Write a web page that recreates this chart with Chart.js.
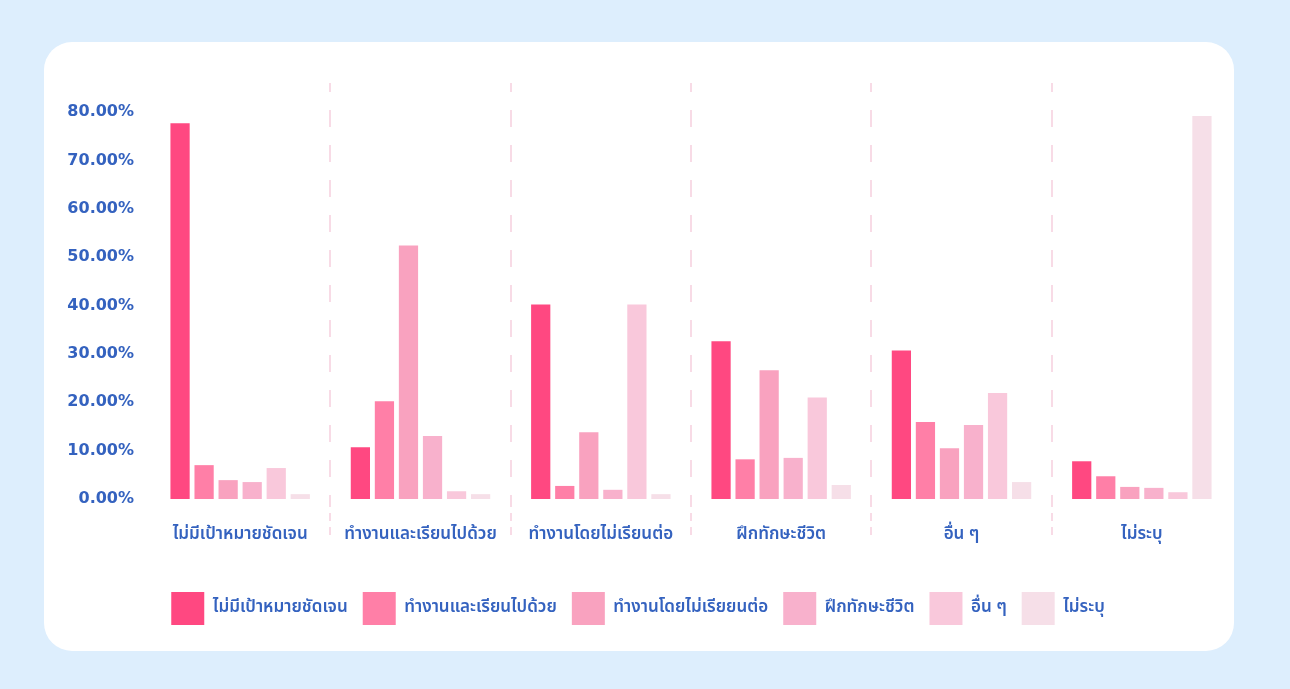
<!DOCTYPE html>
<html lang="th">
<head>
<meta charset="utf-8">
<title>เป้าหมายหลังจบการศึกษา</title>
<script src="https://cdn.jsdelivr.net/npm/chart.js@4.4.1/dist/chart.umd.min.js"></script>
<style>
    html, body {
        margin: 0;
        padding: 0;
        background: #ddeefd;
        width: 1290px;
        height: 689px;
        overflow: hidden;
    }
    .card {
        position: absolute;
        left: 44px;
        top: 42px;
        width: 1190px;
        height: 609px;
        background: #ffffff;
        border-radius: 28px;
    }
    .card canvas {
        position: absolute;
        left: 0;
        top: 0;
    }
</style>
</head>
<body>
<div class="card">
    <canvas id="goalChart" width="1190" height="609"></canvas>
</div>
<script>
// Categories (x axis) and series (legend)
const categories = ['ไม่มีเป้าหมายชัดเจน', 'ทำงานและเรียนไปด้วย', 'ทำงานโดยไม่เรียนต่อ', 'ฝึกทักษะชีวิต', 'อื่น ๆ', 'ไม่ระบุ'];
const seriesNames = ['ไม่มีเป้าหมายชัดเจน', 'ทำงานและเรียนไปด้วย', 'ทำงานโดยไม่เรียยนต่อ', 'ฝึกทักษะชีวิต', 'อื่น ๆ', 'ไม่ระบุ'];

// Percent values, one array per series
const noGoal      = [77.7, 10.7, 40.2, 32.6, 30.7, 7.8];
const workStudy   = [7.0, 20.2, 2.7, 8.2, 15.9, 4.7];
const workOnly    = [3.9, 52.4, 13.8, 26.6, 10.5, 2.5];
const lifeSkills  = [3.5, 13.0, 1.9, 8.5, 15.3, 2.3];
const otherGoal   = [6.4, 1.6, 40.2, 21.0, 21.9, 1.4];
const notSpecified = [1.0, 1.0, 1.0, 2.9, 3.5, 79.2];

const yTicks = [0, 10, 20, 30, 40, 50, 60, 70, 80];

const barColors = ['#ff4881', '#ff7fa7', '#f9a2bf', '#f8b1cc', '#f9c8db', '#f6dfe8'];
const textColor = '#3462bf';
const thaiFont = '"Noto Sans Thai", "Noto Sans", "DejaVu Sans", sans-serif';
const numFont = '"DejaVu Sans", "Noto Sans", sans-serif';

document.addEventListener('DOMContentLoaded', function() {
    const allSeries = [noGoal, workStudy, workOnly, lifeSkills, otherGoal, notSpecified];

    const datasets = allSeries.map((values, i) => ({
        label: seriesNames[i],
        data: values,
        backgroundColor: barColors[i],
        borderWidth: 0,
        barPercentage: 0.8,
        categoryPercentage: 0.8
    }));

    // hide the two outer separators
    const sepColor = ctx => (ctx.type !== 'tick' || ctx.index === 0) ? 'rgba(0,0,0,0)' : '#f8dbe6';

    new Chart(document.getElementById('goalChart'), {
        type: 'bar',
        data: {
            labels: categories,
            datasets: datasets
        },
        options: {
            responsive: false,
            animation: false,
            layout: {
                padding: { top: 41, right: 2, bottom: 16, left: 0 }
            },
            plugins: {
                legend: {
                    position: 'bottom',
                    labels: {
                        boxWidth: 33,
                        boxHeight: 33,
                        padding: 15,
                        color: textColor,
                        font: { family: thaiFont, size: 17, weight: '600' }
                    }
                },
                tooltip: { enabled: false }
            },
            scales: {
                x: {
                    border: { display: false, dash: [17, 18], dashOffset: 8 },
                    grid: {
                        offset: true,
                        color: sepColor,
                        lineWidth: 2,
                        tickLength: 42,
                        tickColor: sepColor,
                        tickBorderDash: [8, 6],
                        tickBorderDashOffset: 0
                    },
                    ticks: {
                        padding: -16,
                        color: textColor,
                        font: { family: thaiFont, size: 17, weight: '600' }
                    },
                    afterFit: scale => { scale.height = 78; }
                },
                y: {
                    min: 0,
                    max: 86,
                    border: { display: false },
                    grid: { display: false, drawTicks: false },
                    afterBuildTicks: scale => {
                        scale.ticks = yTicks.map(v => ({ value: v }));
                    },
                    ticks: {
                        padding: 16,
                        color: textColor,
                        font: { family: numFont, size: 16, weight: 'bold' },
                        callback: value => value.toFixed(2) + '%'
                    },
                    afterFit: scale => { scale.width = 106; }
                }
            }
        }
    });
});
</script>
</body>
</html>
